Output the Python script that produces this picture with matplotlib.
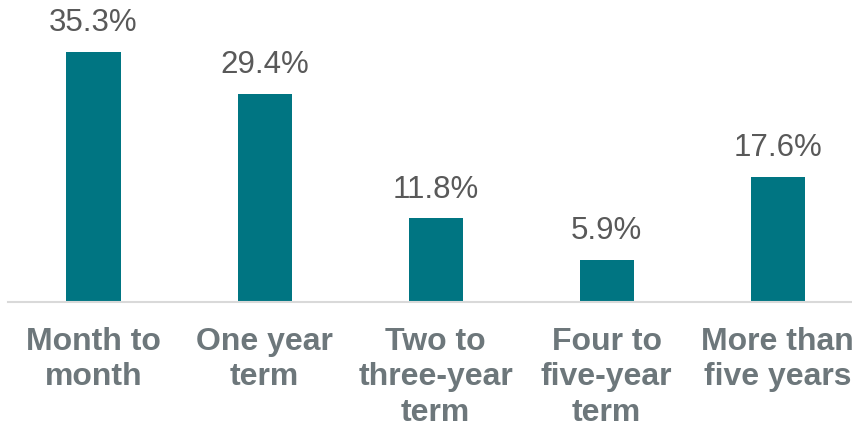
import numpy as np
import matplotlib
matplotlib.use('Agg')
import matplotlib.pyplot as plt

plt.rcParams['font.family'] = ['Liberation Sans', 'DejaVu Sans']

categories = ['Month to\nmonth', 'One year\nterm', 'Two to\nthree-year\nterm',
              'Four to\nfive-year\nterm', 'More than\nfive years']
values = [35.3, 29.4, 11.8, 5.9, 17.6]

bar_color = '#007582'
fig = plt.figure(figsize=(8.53, 4.29), dpi=100)
ax = fig.add_axes([8/853, (429-302)/429, (853-8)/853, 302/429])

x = np.arange(len(categories))
ax.bar(x, values, width=0.316, color=bar_color)
for xi, v in zip(x, values):
    ax.annotate(f'{v:.1f}%', (xi, v), xytext=(0, 10), textcoords='offset points',
                ha='center', va='bottom', fontsize=22.5, color='#595959')

ax.set_xlim(-0.5, 4.44)
ax.set_ylim(0, 42.65)
ax.set_xticks(x)
ax.set_xticklabels(categories, fontsize=23, fontweight='bold', color='#6d777b',
                   linespacing=1.23)
ax.tick_params(axis='x', length=0, pad=18)
ax.set_yticks([])
for s in ['top', 'right', 'left']:
    ax.spines[s].set_visible(False)
ax.spines['bottom'].set_color('#d9d9d9')
ax.spines['bottom'].set_linewidth(1.5)

plt.savefig('out.png', dpi=100)
